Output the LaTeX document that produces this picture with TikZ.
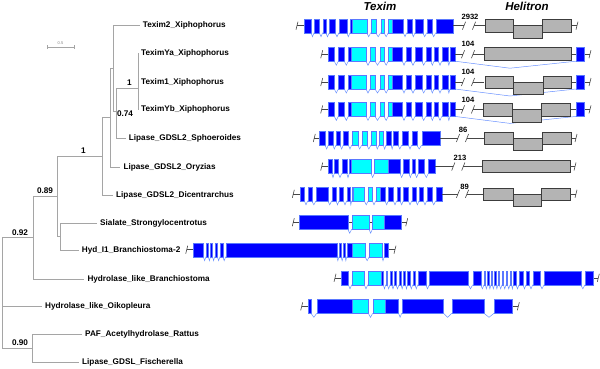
\documentclass[tikz,border=0pt]{standalone}
\usepackage{fontspec}
\setmainfont{Liberation Sans}
\definecolor{exblue}{RGB}{0,0,255}
\definecolor{exedge}{RGB}{90,120,255}
\definecolor{excyan}{RGB}{0,255,255}
\definecolor{intr}{RGB}{105,145,255}
\definecolor{hfill}{RGB}{180,180,180}
\definecolor{hedge}{RGB}{60,60,60}
\definecolor{treegray}{RGB}{165,165,165}
\definecolor{tkgray}{RGB}{70,70,70}
\newcommand\lbl{\fontsize{8.2}{9}\selectfont\bfseries}
\newcommand\exonrow[2]{%
  \foreach \a/\b/\c [remember=\b as \pb (initially -1000)] in {#2}{%
    \pgfmathsetmacro\gap{\a-\pb}%
    \ifdim\gap pt>0.6pt \ifdim\gap pt<300pt
      \draw[intron] (\pb,#1+7) -- ({(\pb+\a)/2},#1+11) -- (\a,#1+7);
    \fi\fi
    \path[ex\c] (\a,#1-7) rectangle (\b,#1+7);
  }}
\newcommand\tk[2]{\draw[tkl] (#1-1,#2+4) -- (#1+1,#2-4);}
\newcommand\brk[3]{\draw[tkl] (#1-1.6,#3+4) -- (#1+1.6,#3-4); \draw[tkl] (#2-1.6,#3+4) -- (#2+1.6,#3-4);}
\begin{document}
\begin{tikzpicture}[x=1pt,y=-1pt,
  branch/.style={draw=treegray, line width=0.6pt},
  leaf/.style={anchor=west, font=\lbl, inner xsep=3pt, inner ysep=0pt},
  sup/.style={font=\lbl, inner sep=0pt},
  num/.style={font=\fontsize{7.6}{8}\selectfont\bfseries, inner sep=0pt},
  head/.style={font=\fontsize{11.5}{12}\selectfont\bfseries\itshape, inner sep=0pt},
  exB/.style={fill=exblue, draw=exedge, line width=0.35pt},
  exC/.style={fill=excyan, draw=exedge, line width=0.35pt},
  intron/.style={draw=intr, line width=0.5pt},
  tkl/.style={draw=tkgray, line width=0.6pt},
  hbox/.style={fill=hfill, draw=hedge, line width=0.6pt}]
\useasboundingbox (0,0) rectangle (600,368);

% ---------- headers ----------
\node[head] (hT) at (380,6) {Texim};
\node[head] (hH) at (527,6) {Helitron};

% ---------- scale bar ----------
\draw[treegray, line width=0.6pt] (47,47) -- (74,47) (47,45) -- (47,49) (74,45) -- (74,49);
\node[font=\fontsize{4}{4}\selectfont, text=gray, inner sep=0pt] (sb) at (60.5,43.5) {0.5};

% ---------- leaves ----------
\node[leaf] (l1) at (139.7,25.5) {Texim2\_Xiphophorus};
\node[leaf] (l2) at (138,53) {TeximYa\_Xiphophorus};
\node[leaf] (l3) at (138,82) {Texim1\_Xiphophorus};
\node[leaf] (l4) at (138,109.5) {TeximYb\_Xiphophorus};
\node[leaf] (l5) at (125.7,138) {Lipase\_GDSL2\_Sphoeroides};
\node[leaf] (l6) at (120.3,167) {Lipase\_GDSL2\_Oryzias};
\node[leaf] (l7) at (113,195) {Lipase\_GDSL2\_Dicentrarchus};
\node[leaf] (l8) at (97,223) {Sialate\_Strongylocentrotus};
\node[leaf] (l9) at (78.7,250.5) {Hyd\_I1\_Branchiostoma-2};
\node[leaf] (l10) at (84.3,279) {Hydrolase\_like\_Branchiostoma};
\node[leaf] (l11) at (42,306.5) {Hydrolase\_like\_Oikopleura};
\node[leaf] (l12) at (82,334) {PAF\_Acetylhydrolase\_Rattus};
\node[leaf] (l13) at (79,362) {Lipase\_GDSL\_Fischerella};

% ---------- internal nodes ----------
\coordinate (nE) at (138,88);
\coordinate (nD) at (116,111);
\coordinate (nA) at (113,68);
\coordinate (nB) at (110,117.5);
\coordinate (nC) at (102.5,156);
\coordinate (nG) at (60,236.7);
\coordinate (nF) at (57,196);
\coordinate (nH) at (33,237.5);
\coordinate (nJ) at (32,348);
\coordinate (root) at (2,300);

% ---------- branches ----------
\draw[branch] (l2.west) -- (l4.west);
\draw[branch] (nE) -- (nE -| nD) -- (l5.west -| nD) -- (l5.west);
\draw[branch] (l1.west) -- (l1.west -| nA) -- (nD -| nA) -- (nD);
\draw[branch] (nA) -- (nA -| nB) -- (l6.west -| nB) -- (l6.west);
\draw[branch] (nB) -- (nB -| nC) -- (l7.west -| nC) -- (l7.west);
\draw[branch] (l8.west) -- (l8.west -| nG) -- (l9.west -| nG) -- (l9.west);
\draw[branch] (nC) -- (nC -| nF) -- (nG -| nF) -- (nG);
\draw[branch] (nF) -- (nF -| nH) -- (l10.west -| nH) -- (l10.west);
\draw[branch] (l12.west) -- (l12.west -| nJ) -- (l13.west -| nJ) -- (l13.west);
\draw[branch] (nH) -- (nH -| root) -- (nJ -| root) -- (nJ);
\draw[branch] (l11.west) -- (l11.west -| root);

% ---------- support values ----------
\node[sup] (s1) at (129.3,83) {1};
\node[sup] (s2) at (125,113.5) {0.74};
\node[sup] (s3) at (83.3,150.7) {1};
\node[sup] (s4) at (45,190.5) {0.89};
\node[sup] (s5) at (20,233) {0.92};
\node[sup] (s6) at (20,343) {0.90};

% ---------- row 1 : Texim2 ----------
\tk{297}{25.7} \draw[tkl] (297,25.7) -- (304,25.7);
\exonrow{25.7}{304/311/B, 314/319.3/B, 322.7/325.7/B, 329.3/335/B, 339/346.7/B, 350/351.7/B, 351.7/366.7/C, 370.7/375.7/C, 380.7/384/C, 388.3/392.3/C, 392.3/403.3/B, 406.7/411.7/B, 415/422.7/B, 426.7/431.7/B, 435.7/453.3/B}
\draw[tkl] (453.3,25.7) -- (464,25.7) (474,25.7) -- (485,25.7);
\brk{464}{474}{25.7}
\node[num] (n1) at (470,17) {2932};
\path[hbox] (485,19.7) rectangle (513.3,32.2);
\path[hbox] (513.3,25.7) rectangle (542.3,38.2);
\path[hbox] (542.3,19.7) rectangle (571.7,32.2);
\draw[tkl] (571.7,25.7) -- (577,25.7); \tk{577}{25.7}

% ---------- rows 2-4 ----------
\foreach \yc/\nm in {54.2/a, 82/b, 109.4/c}{
  \tk{321.7}{\yc} \draw[tkl] (321.7,\yc) -- (328.3,\yc);
  \draw[intron] (455,\yc+7) -- (510,\yc+14) -- (576,\yc+7);
  \exonrow{\yc}{328.3/334.3/B, 338.3/344.3/B, 348.3/350.7/B, 350.7/366/C, 370/375/C, 380/384/C, 388.3/391.7/C, 391.7/402.3/B, 405.7/411/B, 415/421.7/B, 425.7/430.7/B, 434/438.3/B, 441.7/447.7/B, 450/455/B}
  \draw[tkl] (455,\yc) -- (463,\yc) (473,\yc) -- (484,\yc);
  \brk{463}{473}{\yc}
  \node[num] (n2\nm) at (468,\yc-10) {104};
  \draw[tkl] (570,\yc) -- (590,\yc); \tk{590}{\yc}
  \path[exB] (576,\yc-7) rectangle (584,\yc+7);
}
\path[hbox] (484,47.7) rectangle (571,60.2);
\path[hbox] (485,76) rectangle (513.3,88.5);
\path[hbox] (513.3,82) rectangle (543.3,94.5);
\path[hbox] (543.3,76) rectangle (571.7,88.5);
\path[hbox] (483.3,103.4) rectangle (512.7,115.9);
\path[hbox] (512.7,109.4) rectangle (541.7,121.9);
\path[hbox] (541.7,103.4) rectangle (570,115.9);

% ---------- row 5 : Sphoeroides ----------
\tk{314.3}{138} \draw[tkl] (314.3,138) -- (319.3,138);
\exonrow{138}{319.3/325/B, 328.3/332.7/B, 336/340/B, 343.3/348.3/B, 351.7/357.7/C, 361.7/366.7/C, 371/375.7/C, 379/383.3/C, 386/391/B, 393.3/398/B, 401.7/408.3/B, 411.7/416.7/B, 421.7/440/B}
\draw[tkl] (440,138) -- (458,138) (467,138) -- (484,138);
\brk{458}{467}{138}
\node[num] (n5) at (463,129.5) {86};
\path[hbox] (484,132) rectangle (513,144.5);
\path[hbox] (513,138) rectangle (542,150.5);
\path[hbox] (542,132) rectangle (571,144.5);
\draw[tkl] (571,138) -- (576,138); \tk{576}{138}

% ---------- row 6 : Oryzias ----------
\tk{321.7}{166.5} \draw[tkl] (321.7,166.5) -- (327.7,166.5);
\exonrow{166.5}{327.7/331.7/B, 334.3/338.3/B, 341.7/346.7/B, 349.3/351/B, 351/371/C, 374.3/388/C, 388/400/B, 403.3/409/B, 411.7/415/B, 418.3/424.3/B, 428.3/435/B}
\draw[tkl] (435,166.5) -- (453.3,166.5) (463.3,166.5) -- (482.3,166.5);
\brk{453.3}{463.3}{166.5}
\node[num] (n6) at (460,158) {213};
\path[hbox] (482.3,160) rectangle (570,172.5);
\draw[tkl] (570,166.5) -- (575,166.5); \tk{575}{166.5}

% ---------- row 7 : Dicentrarchus ----------
\tk{293.3}{193.8} \draw[tkl] (293.3,193.8) -- (300,193.8);
\exonrow{193.8}{300/304.3/B, 307.7/311.7/B, 316/327.7/B, 331.7/336/B, 339/343.3/B, 346.7/350/B, 351.7/353.3/B, 353.3/364.3/C, 368.3/372.3/C, 375.7/380/C, 380/385/B, 388.3/393.3/B, 396.7/400/B, 403.3/408.3/B, 411.7/415.7/B, 419/423.3/B, 426.7/431.7/B, 435.7/441.7/B}
\draw[tkl] (441.7,193.8) -- (458,193.8) (467,193.8) -- (483,193.8);
\brk{458}{467}{193.8}
\node[num] (n7) at (464.5,186.5) {89};
\path[hbox] (483,187.8) rectangle (513,200.3);
\path[hbox] (513,193.8) rectangle (541.7,206.3);
\path[hbox] (541.7,187.8) rectangle (570,200.3);
\draw[tkl] (570,193.8) -- (576,193.8); \tk{576}{193.8}

% ---------- row 8 : Sialate ----------
\tk{293.3}{222.2} \draw[tkl] (293.3,222.2) -- (406.7,222.2); \tk{406.7}{222.2}
\exonrow{222.2}{299.3/347.7/B, 351.7/369/C, 372.3/384.3/C, 384.3/401/B}

% ---------- row 9 : Hyd_I1 ----------
\tk{186.7}{249.7} \draw[tkl] (186.7,249.7) -- (193.3,249.7);
\draw[tkl] (388,249.7) -- (395,249.7); \tk{395}{249.7}
\exonrow{249.7}{193.3/203.3/B, 206/208.3/B, 210.5/212.5/B, 214.7/217.3/B, 220/222.7/B, 225.7/336.7/B, 339/341/B, 343.3/345/B, 346.7/351.7/B, 351.7/365/C, 369.3/381.7/C, 384.3/388/B}

% ---------- row 10 : Hydrolase_like_Branchiostoma ----------
\tk{335}{277.8} \draw[tkl] (335,277.8) -- (341,277.8);
\draw[tkl] (592.7,277.8) -- (598.3,277.8); \tk{598.3}{277.8}
\exonrow{277.8}{341/348.3/B, 351.7/364.3/C, 367.7/381/C, 381/383.3/B, 385.7/387.3/B, 390/391.7/B, 394.3/396/B, 399/401/B, 403.3/405.5/B, 407.5/410/B, 412.7/415/B, 417.7/425.7/B, 429.3/468.3/B, 472.7/480.7/B, 484/485.3/B, 487.5/488.8/B, 491/492.3/B, 494.5/495.8/B, 498/499.3/B, 502/503.5/B, 506/507.5/B, 510/511.5/B, 513.3/516/B, 519/523/B, 526/529.3/B, 532.7/540/B, 544/580.7/B, 585/592.7/B}

% ---------- row 11 : Oikopleura ----------
\tk{301.7}{306.3} \draw[tkl] (301.7,306.3) -- (307.7,306.3);
\draw[tkl] (511.7,306.3) -- (518.3,306.3); \tk{518.3}{306.3}
\exonrow{306.3}{307.7/311/B, 316.7/351.7/B, 351.7/368.3/C, 372.7/385.3/C, 385.3/398.5/B, 401.7/443.5/B, 451.7/484/B, 494/511.7/B}
\end{tikzpicture}
\end{document}
